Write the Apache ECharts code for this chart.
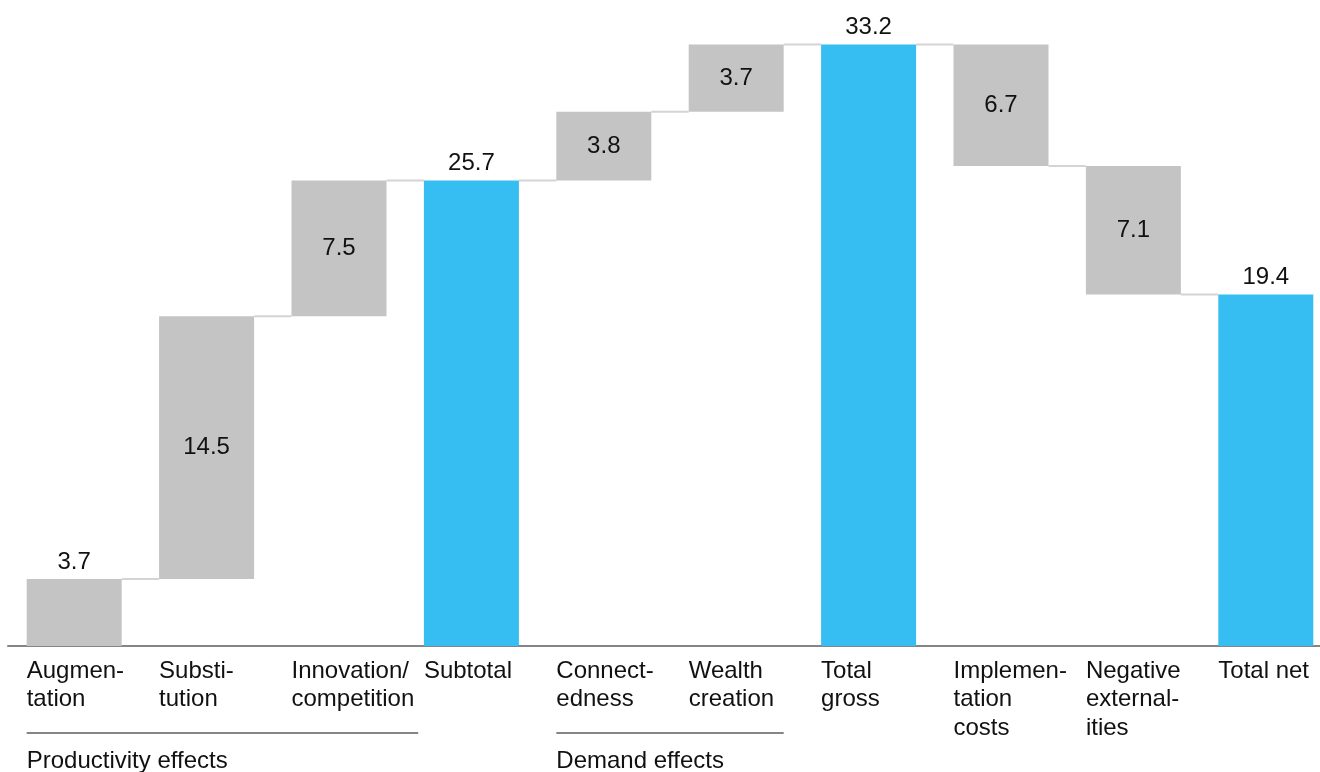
<!DOCTYPE html>
<html>
<head>
<meta charset="utf-8">
<script src="https://cdn.jsdelivr.net/npm/echarts@6/dist/echarts.min.js"></script>
<style>
html,body{margin:0;padding:0;background:#fff;}
#chart{width:1320px;height:772px;}
</style>
</head>
<body>
<div id="chart"></div>
<script>
// ---- data ----
const categories = ['Augmen-\ntation', 'Substi-\ntution', 'Innovation/\ncompetition', 'Subtotal', 'Connect-\nedness', 'Wealth\ncreation', 'Total\ngross', 'Implemen-\ntation\ncosts', 'Negative\nexternal-\nities', 'Total net'];
const values = [3.7, 14.5, 7.5, 25.7, 3.8, 3.7, 33.2, -6.7, -7.1, 19.4];
const isTotal = [false, false, false, true, false, false, true, false, false, true];
const labelAbove = [true, false, false, true, false, false, true, false, false, true];
const groupNames = ['Productivity effects', 'Demand effects'];
const groupStart = [0, 4];
const groupEnd = [2, 5];

// ---- styling ----
const FONT = '"Liberation Sans", Arial, sans-serif';
const FS = 24;
const BAR_W = 95;
const GRAY = '#c4c4c4';
const BLUE = '#36bdf2';

// waterfall bases/heights derived from the values
const base = [], height = [], level = [];
let run = 0;
values.forEach((v, i) => {
  if (isTotal[i]) { base.push(0); height.push(v); run = v; }
  else if (v >= 0) { base.push(run); height.push(v); run += v; }
  else { base.push(run + v); height.push(-v); run += v; }
  level.push(run);
});

const connectorData = [];
for (let i = 0; i < categories.length - 1; i++) connectorData.push([i, level[i]]);

const measure = (function () {
  const c = document.createElement('canvas').getContext('2d');
  c.font = FS + 'px ' + FONT;
  return t => Math.max.apply(null, t.split('\n').map(s => c.measureText(s).width));
})();

const chart = echarts.init(document.getElementById('chart'), null, { renderer: 'canvas' });
chart.setOption({
  animation: false,
  backgroundColor: '#fff',
  grid: { left: 8, width: 1324, top: 12, bottom: 126, containLabel: false, outerBoundsMode: 'none' },
  xAxis: {
    type: 'category',
    data: categories,
    axisLine: { show: true, lineStyle: { color: '#858585', width: 2 } },
    axisTick: { show: false },
    axisLabel: { show: false },
    splitLine: { show: false }
  },
  yAxis: {
    type: 'value', min: 0, max: 35, show: false, splitLine: { show: false }
  },
  series: [
    {
      type: 'bar', stack: 'w', barWidth: BAR_W, silent: true,
      itemStyle: { color: 'transparent' },
      data: base
    },
    {
      type: 'bar', stack: 'w', barWidth: BAR_W,
      data: height.map((h, i) => ({
        value: h,
        itemStyle: { color: isTotal[i] ? BLUE : GRAY },
        label: {
          show: true,
          position: labelAbove[i] ? 'top' : 'inside',
          distance: 5,
          formatter: () => Math.abs(values[i]).toFixed(1),
          color: '#111', fontSize: FS, fontFamily: FONT
        }
      }))
    },
    {
      type: 'custom', silent: true,
      data: connectorData,
      renderItem: function (params, api) {
        const i = api.value(0), lv = api.value(1);
        const p0 = api.coord([i, lv]);
        const p1 = api.coord([i + 1, lv]);
        return {
          type: 'line',
          shape: { x1: p0[0] + BAR_W / 2, y1: p0[1], x2: p1[0] - BAR_W / 2, y2: p1[1] },
          style: { stroke: '#d4d4d4', lineWidth: 2 }
        };
      }
    },
    {
      // category labels, left aligned under each bar
      type: 'custom', silent: true, clip: false,
      data: categories.map((c, i) => [i, 0]),
      renderItem: function (params, api) {
        const i = api.value(0);
        const p = api.coord([i, 0]);
        return {
          type: 'text',
          style: {
            text: categories[i], x: p[0] - BAR_W / 2, y: p[1] + 11,
            fill: '#111', font: FS + 'px ' + FONT, lineHeight: 28.5,
            textAlign: 'left', textVerticalAlign: 'top'
          }
        };
      }
    },
    {
      // group brackets
      type: 'custom', silent: true, clip: false,
      data: groupNames.map((g, k) => [groupStart[k], groupEnd[k]]),
      renderItem: function (params, api) {
        const k = params.dataIndex;
        const s = api.value(0), e = api.value(1);
        const ps = api.coord([s, 0]);
        const pe = api.coord([e, 0]);
        const x1 = ps[0] - BAR_W / 2;
        const x2 = Math.max(pe[0] + BAR_W / 2, pe[0] - BAR_W / 2 + measure(categories[e]) + 4);
        return {
          type: 'group',
          children: [
            { type: 'line', shape: { x1: x1, y1: ps[1] + 87, x2: x2, y2: ps[1] + 87 },
              style: { stroke: '#858585', lineWidth: 2 } },
            { type: 'text', style: {
                text: groupNames[k], x: x1, y: ps[1] + 103,
                fill: '#111', font: FS + 'px ' + FONT,
                textAlign: 'left', textVerticalAlign: 'top' } }
          ]
        };
      }
    }
  ]
});
</script>
</body>
</html>
